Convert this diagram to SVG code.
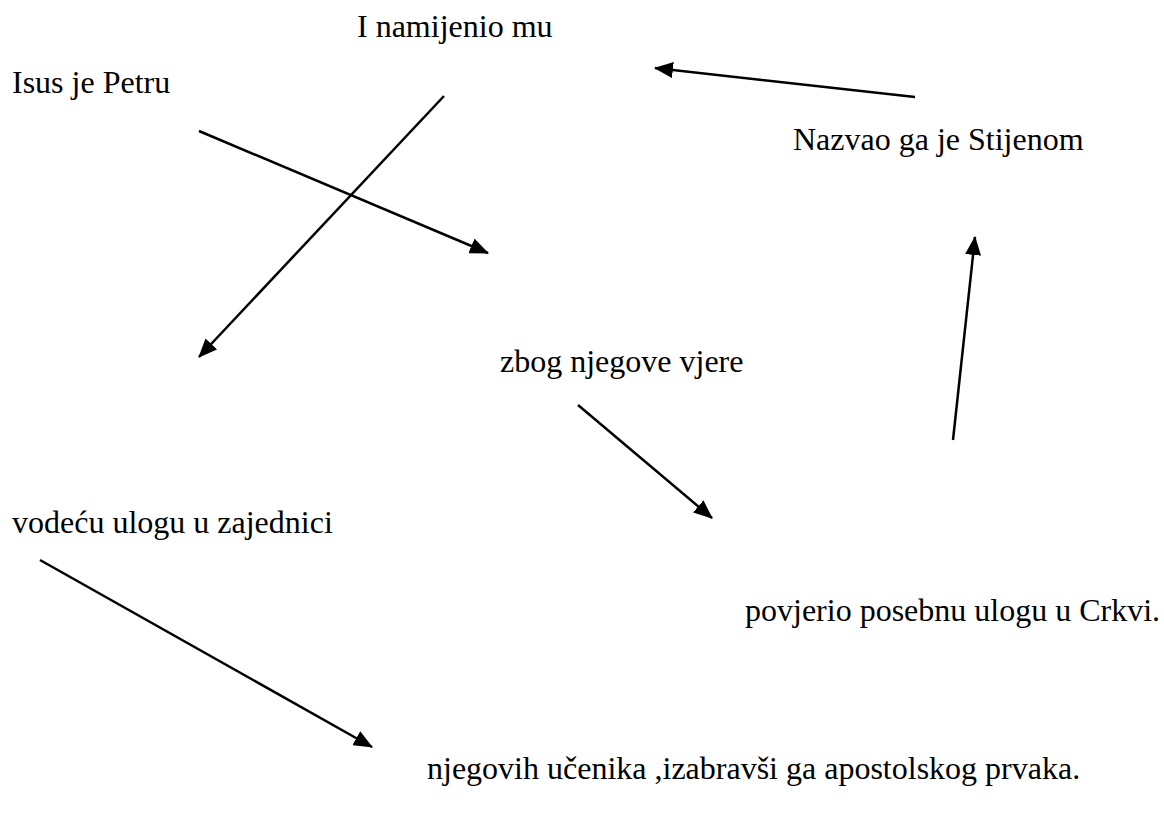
<svg xmlns="http://www.w3.org/2000/svg" width="1164" height="815" viewBox="0 0 1164 815">
<style>
.t{font-size:32px;fill:#000}
.c{stroke:#000;stroke-width:2.5;fill:none;marker-end:url(#ah)}
</style>
<defs>
<marker id="ah" markerUnits="userSpaceOnUse" markerWidth="19" markerHeight="16" viewBox="0 0 19 16" refX="18" refY="8" orient="auto">
<path d="M0,0 L19,8 L0,16 z" fill="#000"/>
</marker>
</defs>
<rect width="1164" height="815" fill="#fff"/>
<g id="connectors">
<line class="c" x1="199" y1="131" x2="488" y2="253"/>
<line class="c" x1="444" y1="96" x2="199" y2="357"/>
<line class="c" x1="915" y1="97" x2="655" y2="68"/>
<line class="c" x1="953" y1="440" x2="975" y2="237"/>
<line class="c" x1="578" y1="405" x2="712" y2="518"/>
<line class="c" x1="40" y1="560" x2="372" y2="747"/>
</g>
<g font-family="'Liberation Serif', 'Times New Roman', 'DejaVu Serif', serif">
<g id="n1"><text class="t" x="357" y="37">I namijenio mu</text></g>
<g id="n2"><text class="t" x="12" y="93">Isus je Petru</text></g>
<g id="n3"><text class="t" x="793" y="150">Nazvao ga je Stijenom</text></g>
<g id="n4"><text class="t" x="500" y="372">zbog njegove vjere</text></g>
<g id="n5"><text class="t" x="12" y="533">vodeću ulogu u zajednici</text></g>
<g id="n6"><text class="t" x="745" y="621">povjerio posebnu ulogu u Crkvi.</text></g>
<g id="n7"><text class="t" x="427" y="779">njegovih učenika ,izabravši ga apostolskog prvaka.</text></g>
</g>
</svg>
